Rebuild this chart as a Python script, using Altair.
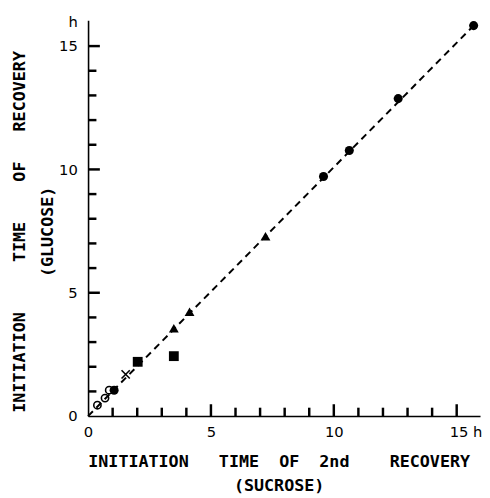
import altair as alt
import pandas as pd

# ---- data ----
open_x = [0.38, 0.69, 0.86]
open_y = [0.44, 0.73, 1.05]
filled_x = [1.06, 9.58, 10.63, 12.62, 15.69]
filled_y = [1.05, 9.71, 10.77, 12.87, 15.83]
cross_x = [1.53]
cross_y = [1.69]
square_x = [2.02, 3.49]
square_y = [2.20, 2.43]
tri_x = [3.49, 4.13, 7.22]
tri_y = [3.56, 4.23, 7.29]
line_x = [0.0, 15.69]
line_y = [0.0, 15.83]

x_label_values = [0, 5, 10, 15]
y_label_values = [0, 5, 10, 15, 16]
minor_ticks = [1.0, 2.0, 3.0, 4.0, 6.0, 7.0, 8.0, 9.0, 11.0, 12.0, 13.0, 14.0]
major_ticks = [5.0, 10.0, 15.0]

NB = "\u00a0"
x_title = ["INITIATION" + NB * 3 + "TIME" + NB * 2 + "OF" + NB * 2 + "2nd" + NB * 4 + "RECOVERY",
           "(SUCROSE)" + NB * 2]
y_title = ["INITIATION" + NB * 5 + "TIME" + NB * 4 + "OF" + NB * 3 + "RECOVERY",
           "(GLUCOSE)"]

xs = alt.Scale(domain=[0, 15.95], nice=False, zero=False)
ys = alt.Scale(domain=[0, 16.05], nice=False, zero=False)

x_axis = alt.Axis(
    values=x_label_values, tickSize=0, grid=False,
    domainColor="black", domainWidth=1.6,
    labelFont="DejaVu Sans", labelFontSize=15, labelColor="black", labelPadding=9,
    labelExpr="datum.value == 15 ? '15 h' : datum.label",
    labelOffset={"condition": {"test": "datum.value == 15", "value": 9}, "value": 0},
    labelFlush=False, labelOverlap=False,
    title=x_title, titleFont="DejaVu Sans Mono", titleFontSize=17, titleFontWeight="bold",
    titleColor="black", titleLineHeight=25, titleX=194, titleY=38,
    titleBaseline="top", titleAlign="center",
)
y_axis = alt.Axis(
    values=y_label_values, tickSize=0, grid=False,
    domainColor="black", domainWidth=1.6,
    labelFont="DejaVu Sans", labelFontSize=15, labelColor="black", labelPadding=11,
    labelExpr="datum.value == 16 ? 'h' : datum.label",
    labelFlush=False, labelOverlap=False,
    title=y_title, titleFont="DejaVu Sans Mono", titleFontSize=17, titleFontWeight="bold",
    titleColor="black", titleLineHeight=29, titleX=-78, titleY=215, titleAngle=270,
    titleBaseline="top", titleAlign="center",
)

X = alt.X("x:Q", scale=xs, axis=x_axis)
Y = alt.Y("y:Q", scale=ys, axis=y_axis)

fit = alt.Chart(pd.DataFrame({"x": line_x, "y": line_y})).mark_line(
    color="black", strokeWidth=2, strokeDash=[7, 5]
).encode(x=X, y=Y)

opens = alt.Chart(pd.DataFrame({"x": open_x, "y": open_y})).mark_point(
    shape="circle", filled=False, color="black", strokeWidth=1.6, size=55, opacity=1
).encode(x=X, y=Y)

filled = alt.Chart(pd.DataFrame({"x": filled_x, "y": filled_y})).mark_point(
    shape="circle", filled=True, color="black", size=85, opacity=1
).encode(x=X, y=Y)

cross = alt.Chart(pd.DataFrame({"x": cross_x, "y": cross_y})).mark_point(
    shape="M-1,-1L1,1M-1,1L1,-1", filled=False, color="black", strokeWidth=1.6, size=70, opacity=1
).encode(x=X, y=Y)

squares = alt.Chart(pd.DataFrame({"x": square_x, "y": square_y})).mark_point(
    shape="square", filled=True, color="black", size=100, opacity=1
).encode(x=X, y=Y)

tris = alt.Chart(pd.DataFrame({"x": tri_x, "y": tri_y})).mark_point(
    shape="triangle-up", filled=True, color="black", size=100, opacity=1
).encode(x=X, y=Y)

# inward ticks along both axes, placed through the scales
MINOR_LEN = 0.34
MAJOR_LEN = 0.48


def tick_layers(vals, length):
    df = pd.DataFrame({"tv": vals})
    xt = alt.Chart(df).mark_rule(color="black", strokeWidth=2.5).encode(
        x=alt.X("tv:Q", scale=xs, axis=x_axis),
        y=alt.datum(0.0),
        y2=alt.datum(length),
    )
    yt = alt.Chart(df).mark_rule(color="black", strokeWidth=2.5).encode(
        y=alt.Y("tv:Q", scale=ys, axis=y_axis),
        x=alt.datum(0.0),
        x2=alt.datum(length),
    )
    return [xt, yt]


ticks = tick_layers(minor_ticks, MINOR_LEN) + tick_layers(major_ticks, MAJOR_LEN)

chart = alt.layer(fit, *ticks, opens, filled, cross, squares, tris).properties(
    width=399, height=403,
    autosize=alt.AutoSizeParams(type="none"),
    padding={"left": 81.5, "top": 8, "right": 2, "bottom": 80},
).configure_view(stroke=None)

chart.save("out.html", embed_options={"renderer": "svg", "actions": False})
